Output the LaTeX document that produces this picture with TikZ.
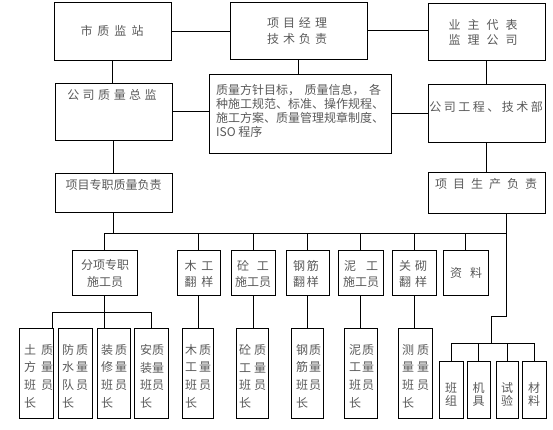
\documentclass[tikz,border=0pt]{standalone}
\usepackage{fontspec}
\newfontfamily\cjk{Noto Sans CJK SC}
\newcommand\mybox[5]{\node[bx,minimum width={(#4)-(#2)},minimum height={(#5)-(#3)}] (#1) at ({((#2)+(#4))/2},{((#3)+(#5))/2}) {};}
\begin{document}
\begin{tikzpicture}[x=1pt,y=-1pt,
  bx/.style={draw, line width=0.8pt, inner sep=0pt, outer sep=0pt},
  tx/.style={inner sep=0pt, font=\cjk\fontsize{12}{14}\selectfont, text=black!65},
  lsk/.style={font=\cjk\fontsize{12}{#1}\selectfont},
  ln/.style={line width=0.8pt}]
\useasboundingbox (0,0) rectangle (553,429);
% boxes
\mybox{sz}{54}{2}{171}{60}
\mybox{xm}{230}{2}{367}{59}
\mybox{yz}{428}{3}{545}{60}
\mybox{zj}{55}{83}{172}{140}
\mybox{tb}{209}{74}{391}{153}
\mybox{gc}{428}{84}{545}{142}
\mybox{zz}{55}{173}{172}{212}
\mybox{sc}{428}{172}{545}{213}
\mybox{fx}{72}{250}{137}{295}
\mybox{mg}{177}{250}{220}{295}
\mybox{tg}{231}{250}{275}{295}
\mybox{gj}{286}{250}{329}{295}
\mybox{ng}{338}{250}{383}{295}
\mybox{gq}{392}{250}{436}{295}
\mybox{zl}{443}{250}{488}{295}
\mybox{r1}{19}{328}{53}{418}
\mybox{r2}{58}{328}{92}{418}
\mybox{r3}{97}{328}{130}{418}
\mybox{r4}{134}{328}{168}{418}
\mybox{r5}{182}{328}{213}{418}
\mybox{r6}{236}{328}{268}{418}
\mybox{r7}{291}{328}{323}{418}
\mybox{r8}{344}{328}{377}{418}
\mybox{r9}{398}{328}{432}{418}
\mybox{b1}{439}{361}{463}{418}
\mybox{b2}{467}{361}{490}{418}
\mybox{b3}{496}{361}{518}{418}
\mybox{b4}{522}{361}{546}{418}
% texts
\node[tx] (t-sz) at (112,31) {市\kern5pt 质\kern5pt 监\kern5pt 站};
\node[tx,align=center,lsk=16] (t-xm) at (297,31) {项\kern4pt 目\kern4pt 经\kern4pt 理\\技\kern4pt 术\kern4pt 负\kern4pt 责};
\node[tx,align=center,lsk=15] (t-yz) at (483,32.5) {业\kern7pt 主\kern7pt 代\kern7pt 表\\监\kern7pt 理\kern7pt 公\kern7pt 司};
\node[tx] (t-zj) at (112,95) {公\kern3.5pt 司\kern3.5pt 质\kern3.5pt 量\kern3.5pt 总\kern3.5pt 监};
\node[tx,align=left,lsk=14,anchor=west] (t-tb) at (216,110.5) {质量方针目标，\kern4.5pt 质量信息，\kern4.5pt 各\\种施工规范、标准、操作规程、\\施工方案、质量管理规章制度、\\ISO 程序};
\node[tx] (t-gc) at (486,107) {公\kern2.5pt 司\kern2.5pt 工\kern2.5pt 程\kern2.5pt 、\kern2.5pt 技\kern2.5pt 术\kern2.5pt 部};
\node[tx] (t-zz) at (113.5,185) {项目专职质量负责};
\node[tx] (t-sc) at (486,184) {项\kern6pt 目\kern6pt 生\kern6pt 产\kern6pt 负\kern6pt 责};
\node[tx,align=center,lsk=17] (t-fx) at (105,273.5) {分项专职\\施工员};
\node[tx,align=center,lsk=16] (t-mg) at (199,274) {木\kern5pt 工\\翻\kern5pt 样};
\node[tx,align=center,lsk=16] (t-tg) at (253,274) {砼\kern8pt 工\\施工员};
\node[tx,align=center,lsk=16] (t-gj) at (306,274) {钢\kern2pt 筋\\翻\kern2pt 样};
\node[tx,align=center,lsk=16] (t-ng) at (361,274) {泥\kern10pt 工\\施工员};
\node[tx,align=center,lsk=16] (t-gq) at (413,274) {关\kern4pt 砌\\翻\kern4pt 样};
\node[tx] (t-zl) at (466,273) {资\kern8pt 料};
\node[tx,align=left,lsk=17.7,anchor=north west] (t-r1) at (24,344) {土\kern5pt 质\\方\kern5pt 量\\班\kern5pt 员\\长};
\node[tx,align=left,lsk=17.7,anchor=north west] (t-r2) at (62,344) {防\kern2pt 质\\水\kern2pt 量\\队\kern2pt 员\\长};
\node[tx,align=left,lsk=17.7,anchor=north west] (t-r3) at (101,344) {装\kern2pt 质\\修\kern2pt 量\\班\kern2pt 员\\长};
\node[tx,align=left,lsk=17.7,anchor=north west] (t-r4) at (140,344) {安质\\装量\\班员\\长};
\node[tx,align=left,lsk=17.7,anchor=north west] (t-r5) at (185,344) {木\kern2pt 质\\工\kern2pt 量\\班\kern2pt 员\\长};
\node[tx,align=left,lsk=17.7,anchor=north west] (t-r6) at (239,344) {砼\kern3pt 质\\工\kern3pt 量\\班\kern3pt 员\\长};
\node[tx,align=left,lsk=17.7,anchor=north west] (t-r7) at (296,344) {钢\kern1pt 质\\筋\kern1pt 量\\班\kern1pt 员\\长};
\node[tx,align=left,lsk=17.7,anchor=north west] (t-r8) at (349,344) {泥\kern1pt 质\\工\kern1pt 量\\班\kern1pt 员\\长};
\node[tx,align=left,lsk=17.7,anchor=north west] (t-r9) at (402,344) {测\kern3pt 质\\量\kern3pt 量\\班\kern3pt 员\\长};
\node[tx,align=center,lsk=13] (t-b1) at (451,394.5) {班\\组};
\node[tx,align=center,lsk=13] (t-b2) at (478.5,394.5) {机\\具};
\node[tx,align=center,lsk=13] (t-b3) at (507,394.5) {试\\验};
\node[tx,align=center,lsk=13] (t-b4) at (534,394.5) {材\\料};
% connectors
\draw[ln] (sz.east) -- (sz.east -| xm.west);
\draw[ln] (xm.east) -- (xm.east -| yz.west);
\draw[ln] (sz.south) -- (sz.south |- zj.north);
\draw[ln] (xm.south) -- (xm.south |- tb.north);
\draw[ln] (yz.south) -- (yz.south |- gc.north);
\draw[ln] (zj.east) -- (zj.east -| tb.west);
\draw[ln] (tb.east) -- (tb.east -| gc.west);
\draw[ln] (zj.south) -- (zj.south |- zz.north);
\draw[ln] (gc.south) -- (gc.south |- sc.north);
\coordinate (busL) at (104,233);
\coordinate (busR) at (507,233);
\draw[ln] (busL) -- (busR);
\draw[ln] (zz.south) -- (zz.south |- busL);
\coordinate (bend1) at (506,316);
\coordinate (bend2) at (491,316);
\coordinate (bus2) at (491,343);
\draw[ln] (sc.south -| bend1) -- (bend1) -- (bend2) -- (bus2);
\draw[ln] (b1.north |- bus2) -- (b4.north |- bus2);
\foreach \b in {b1,b2,b3,b4} {\draw[ln] (\b.north) -- (\b.north |- bus2);}
\foreach \n in {fx,mg,tg,gj,ng,gq,zl} {\draw[ln] (\n.north) -- (\n.north |- busL);}
\coordinate (sub) at (0,312);
\coordinate (r1c) at (52,328);
\draw[ln] (fx.south) -- (fx.south |- r3.north);
\draw[ln] (r1c |- sub) -- (r4.north |- sub);
\draw[ln] (r1c |- sub) -- (r1c);
\draw[ln] (r4.north) -- (r4.north |- sub);
\draw[ln] (mg.south) -- (mg.south |- r5.north);
\draw[ln] (tg.south) -- (tg.south |- r6.north);
\draw[ln] (gj.south) -- (gj.south |- r7.north);
\draw[ln] (ng.south) -- (ng.south |- r8.north);
\draw[ln] (gq.south) -- (gq.south |- r9.north);
\end{tikzpicture}
\end{document}
